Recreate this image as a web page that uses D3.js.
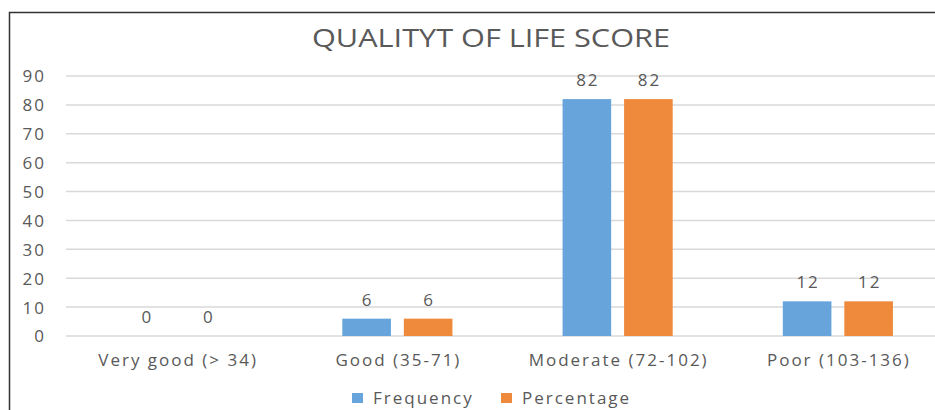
<!DOCTYPE html>
<html>
<head>
<meta charset="utf-8">
<script src="https://cdn.jsdelivr.net/npm/d3@7"></script>
<style>
  body { margin: 0; background: #fff; }
  text { font-family: "Open Sans", "DejaVu Sans", sans-serif; fill: #595959; }
  .lbl { letter-spacing: 2px; }
</style>
</head>
<body>
<svg id="chart" width="935" height="410"></svg>
<script>
var categories = ["Very good (> 34)", "Good (35-71)", "Moderate (72-102)", "Poor (103-136)"];
var series = ["Frequency", "Percentage"];
var frequency = [0, 6, 82, 12];
var percentage = [0, 6, 82, 12];
var yTicks = [0, 10, 20, 30, 40, 50, 60, 70, 80, 90];
var colors = ["#66A4DB", "#EF893B"];

var svg = d3.select("#chart");

// chart frame (right and bottom fall outside the picture)
svg.append("rect")
    .attr("x", 9.5).attr("y", 12.5)
    .attr("width", 960).attr("height", 420)
    .attr("fill", "none")
    .attr("stroke", "#333")
    .attr("stroke-width", 1.5);

var y = d3.scaleLinear().domain([0, 90]).range([336, 76]);
var x0 = d3.scaleBand().domain(categories).range([67, 948]).paddingInner(0.5).paddingOuter(0.25);
var x1 = d3.scaleBand().domain(series).range([0, x0.bandwidth()]).paddingInner(0.21);

// gridlines
svg.append("g").selectAll("line")
    .data(yTicks)
    .enter().append("line")
    .attr("x1", 66).attr("x2", 935)
    .attr("y1", function(d) { return y(d); })
    .attr("y2", function(d) { return y(d); })
    .attr("stroke", "#D9D9D9")
    .attr("stroke-width", 1.5);

// y axis labels
var yAxis = d3.axisLeft(y).tickValues(yTicks).tickSize(0).tickPadding(0);
var gy = svg.append("g").attr("transform", "translate(46,0)").call(yAxis);
gy.select(".domain").remove();
gy.selectAll("text").attr("class", "lbl").style("font-size", "17px").attr("fill", "#595959").attr("dy", "0.35em");

// x axis labels
var xAxis = d3.axisBottom(x0).tickSize(0).tickPadding(0);
var gx = svg.append("g").attr("transform", "translate(1,352)").call(xAxis);
gx.select(".domain").remove();
gx.selectAll("text").attr("class", "lbl").style("font-size", "17px").attr("fill", "#595959").attr("dy", "0.85em");

// bars
var rows = categories.map(function(c, i) {
    return { cat: c, vals: [frequency[i], percentage[i]] };
});

var groups = svg.append("g").selectAll("g")
    .data(rows)
    .enter().append("g")
    .attr("transform", function(d) { return "translate(" + x0(d.cat) + ",0)"; });

groups.selectAll("rect")
    .data(function(d) { return d.vals.map(function(v, j) { return { s: series[j], v: v, j: j }; }); })
    .enter().append("rect")
    .attr("x", function(d) { return x1(d.s); })
    .attr("y", function(d) { return y(d.v); })
    .attr("width", x1.bandwidth())
    .attr("height", function(d) { return y(0) - y(d.v); })
    .attr("fill", function(d) { return colors[d.j]; });

// data labels
groups.selectAll("text")
    .data(function(d) { return d.vals.map(function(v, j) { return { s: series[j], v: v }; }); })
    .enter().append("text")
    .attr("class", "lbl")
    .attr("x", function(d) { return x1(d.s) + x1.bandwidth() / 2 + 1; })
    .attr("y", function(d) { return y(d.v) - 13; })
    .attr("text-anchor", "middle")
    .style("font-size", "17px")
    .text(function(d) { return d.v; });

// title
svg.append("text")
    .attr("x", 491).attr("y", 47)
    .attr("text-anchor", "middle")
    .style("font-size", "26px")
    .attr("textLength", 358)
    .attr("lengthAdjust", "spacingAndGlyphs")
    .text("QUALITYT OF LIFE SCORE");

// legend
var legend = svg.append("g").selectAll("g")
    .data(series)
    .enter().append("g")
    .attr("transform", function(d, i) { return "translate(" + (352 + i * 149) + ",0)"; });

legend.append("rect")
    .attr("x", 0).attr("y", 393)
    .attr("width", 11).attr("height", 10)
    .attr("fill", function(d, i) { return colors[i]; });

legend.append("text")
    .attr("class", "lbl")
    .attr("x", 21).attr("y", 404)
    .style("font-size", "17px")
    .text(function(d) { return d; });
</script>
</body>
</html>
